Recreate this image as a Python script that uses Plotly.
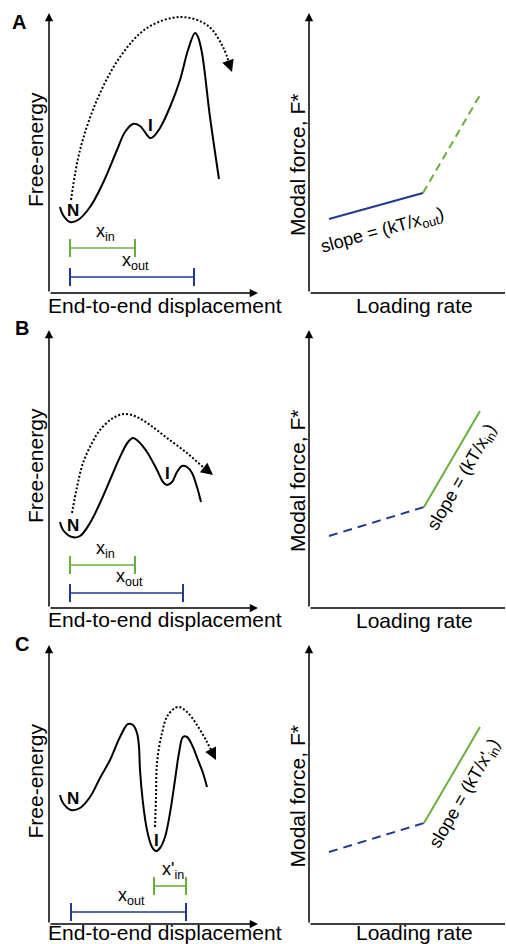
import math
import plotly.graph_objects as go

W, H = 506, 944
GREEN = "#6aaf3d"
NAVY = "#22388f"
FONT = "Arial, 'Liberation Sans', Helvetica, sans-serif"

# ---------------- data (schematic, arbitrary units) ----------------
# Panel A : energy landscape
A_energy_x = [11, 14, 21, 29, 41, 54, 68, 76, 84, 91, 98, 101, 104, 111, 121, 131, 139, 146, 149, 153, 161, 170]
A_energy_y = [86, 78, 71, 73, 86, 110, 143, 161, 169, 167, 158, 155, 156, 165, 186, 213, 243, 260, 256, 240, 176, 114]
A_path_x = [22, 31, 48, 71, 98, 131, 158, 174, 183]
A_path_y = [93, 143, 193, 236, 265, 276, 268, 246, 221]
A_N = [24, 83]
A_I = [101, 168]
A_xin = [21, 86]
A_xin_level = 45
A_xout = [21, 145]
A_xout_level = 16
A_rate = [20, 114, 171]
A_force = [74, 100, 198]

# Panel B
B_energy_x = [11, 14, 23, 31, 41, 51, 61, 71, 79, 84, 89, 98, 108, 114, 118, 123, 128, 133, 138, 143, 148, 152]
B_energy_y = [86, 78, 71, 72, 85, 105, 128, 151, 166, 170, 167, 156, 138, 126, 123, 126, 136, 142, 141, 135, 121, 106]
B_path_x = [23, 28, 34, 43, 51, 64, 76, 88, 101, 118, 138, 154, 164]
B_path_y = [95, 121, 145, 165, 178, 190, 194, 191, 183, 170, 155, 141, 133]
B_N = [24, 83]
B_I = [118, 135]
B_xin = [21, 86]
B_xin_level = 43
B_xout = [21, 134]
B_xout_level = 15
B_rate = [20, 115, 171]
B_force = [72, 101, 197]

# Panel C
C_energy_x = [11, 14, 22, 31, 41, 51, 61, 71, 79, 84, 88, 90, 91, 94, 98, 103, 107, 111, 116, 121, 126, 130, 134, 138, 143, 149, 154, 158]
C_energy_y = [129, 121, 114, 116, 127, 146, 164, 187, 200, 199, 191, 177, 154, 121, 94, 77, 73, 76, 87, 111, 144, 171, 187, 187, 179, 164, 151, 137]
C_path_x = [106, 107, 108, 113, 119, 129, 138, 148, 158, 167]
C_path_y = [97, 127, 161, 191, 209, 217, 212, 199, 182, 164]
C_N = [24, 126]
C_I = [107, 84]
C_xin = [105, 137]
C_xin_level = 38
C_xout = [22, 137]
C_xout_level = 12
C_rate = [20, 115, 171]
C_force = [72, 101, 197]

# ---------------- layout helpers ----------------
fig = go.Figure()
layout = dict(
    width=W, height=H, margin=dict(l=0, r=0, t=0, b=0),
    paper_bgcolor="white", plot_bgcolor="rgba(0,0,0,0)",
    showlegend=False, font=dict(family=FONT, color="black", size=12),
)
annotations = []

rows = {"A": (13, 293), "B": (330, 608), "C": (645, 924)}
LEFT_X = (49, 258)
RIGHT_X = (309, 505)


def arrow(**kw):
    d = dict(showarrow=True, arrowcolor="black", text="", font=dict(size=1))
    d.update(kw)
    annotations.append(d)


def add_axes(idx, xpx, ypx):
    s = "" if idx == 1 else str(idx)
    left, right = xpx
    top, bottom = ypx
    layout["xaxis" + s] = dict(domain=[left / W, right / W], range=[0, right - left],
                               visible=False, anchor="y" + s, fixedrange=True)
    layout["yaxis" + s] = dict(domain=[1 - bottom / H, 1 - top / H], range=[0, bottom - top],
                               visible=False, anchor="x" + s, fixedrange=True)
    xr, yr = "x" + s, "y" + s
    arrow(x=0, y=bottom - top, ax=0, ay=0, xref=xr, yref=yr, axref=xr, ayref=yr,
          arrowhead=2, arrowsize=1.1, arrowwidth=1.5)
    return xr, yr, right - left, bottom - top


def paper_text(text, px, py, size=21, angle=0, xanchor="center", bold=False):
    annotations.append(dict(x=px / W, y=1 - py / H, xref="paper", yref="paper",
                            text=f"<b>{text}</b>" if bold else text, showarrow=False,
                            textangle=angle, xanchor=xanchor, yanchor="middle",
                            font=dict(size=size, family=FONT, color="black")))


def energy_panel(idx, row, ex, ey, px_, py_, N, I, xin, xin_lvl, xin_lbl, xout, xout_lvl, label_y):
    top, bottom = rows[row]
    xr, yr, xmax, ymax = add_axes(idx, LEFT_X, (top, bottom))
    arrow(x=xmax, y=0, ax=0, ay=0, xref=xr, yref=yr, axref=xr, ayref=yr,
          arrowhead=2, arrowsize=1.1, arrowwidth=1.5)
    # energy curve
    fig.add_trace(go.Scatter(x=ex, y=ey, mode="lines", xaxis=xr, yaxis=yr,
                             line=dict(color="black", width=2, shape="spline", smoothing=1.0),
                             hoverinfo="skip"))
    # dotted pathway with arrowhead
    hx, hy = px_[-1], py_[-1]
    dx, dy = hx - px_[-2], hy - py_[-2]
    L = math.hypot(dx, dy)
    ux, uy = dx / L, dy / L
    lx = list(px_[:-1]) + [hx - ux * 6]
    ly = list(py_[:-1]) + [hy - uy * 6]
    fig.add_trace(go.Scatter(x=lx, y=ly, mode="lines", xaxis=xr, yaxis=yr,
                             line=dict(color="black", width=2, dash="2px,2px", shape="spline", smoothing=1.0),
                             hoverinfo="skip"))
    arrow(x=hx, y=hy, ax=-ux * 9, ay=uy * 9, xref=xr, yref=yr,
          arrowhead=2, arrowsize=1.2, arrowwidth=2)
    # N and I labels
    annotations.append(dict(x=N[0], y=N[1], xref=xr, yref=yr, text="<b>N</b>", showarrow=False,
                            font=dict(size=17, family=FONT, color="black")))
    annotations.append(dict(x=I[0], y=I[1], xref=xr, yref=yr, text="<b>I</b>", showarrow=False,
                            font=dict(size=17, family=FONT, color="black")))
    # distance bars
    for (xs, lvl, col, lbl) in [(xin, xin_lvl, GREEN, xin_lbl), (xout, xout_lvl, NAVY, "x<sub>out</sub>")]:
        fig.add_trace(go.Scatter(x=xs, y=[lvl, lvl], mode="lines+markers", xaxis=xr, yaxis=yr,
                                 line=dict(color=col, width=1.6),
                                 marker=dict(symbol="line-ns", size=13, line=dict(color=col, width=2)),
                                 hoverinfo="skip"))
        annotations.append(dict(x=(xs[0] + xs[1]) / 2 + 3, y=lvl + 2, xref=xr, yref=yr, text=lbl,
                                showarrow=False, yanchor="bottom",
                                font=dict(size=18, family=FONT, color="black")))
    paper_text("Free-energy", 35, (top + bottom) / 2 - 3, angle=-90)
    paper_text("End-to-end displacement", 46, label_y, xanchor="left")


def force_panel(idx, row, rate, force, first_dashed, slope_lbl, lbl_pos, lbl_angle, label_y):
    top, bottom = rows[row]
    xr, yr, xmax, ymax = add_axes(idx, RIGHT_X, (top, bottom))
    arrow(x=xmax, y=0, ax=0, ay=0, xref=xr, yref=yr, axref=xr, ayref=yr,
          arrowhead=0, arrowwidth=1.5)
    fig.add_trace(go.Scatter(x=rate[:2], y=force[:2], mode="lines", xaxis=xr, yaxis=yr,
                             line=dict(color=NAVY, width=2, dash="9px,6px" if first_dashed else "solid"),
                             hoverinfo="skip"))
    fig.add_trace(go.Scatter(x=rate[1:], y=force[1:], mode="lines", xaxis=xr, yaxis=yr,
                             line=dict(color=GREEN, width=2, dash="solid" if first_dashed else "8px,5px"),
                             hoverinfo="skip"))
    annotations.append(dict(x=lbl_pos[0], y=lbl_pos[1], xref=xr, yref=yr, text=slope_lbl,
                            showarrow=False, textangle=lbl_angle,
                            font=dict(size=18, family=FONT, color="black")))
    paper_text("Modal force, F*", 297, (top + bottom) / 2 + 12, angle=-90)
    paper_text("Loading rate", 414, label_y)


energy_panel(1, "A", A_energy_x, A_energy_y, A_path_x, A_path_y, A_N, A_I,
             A_xin, A_xin_level, "x<sub>in</sub>", A_xout, A_xout_level, 305)
force_panel(2, "A", A_rate, A_force, False, "slope = (kT/x<sub>out</sub>)", (73, 62), -15.5, 305)

energy_panel(3, "B", B_energy_x, B_energy_y, B_path_x, B_path_y, B_N, B_I,
             B_xin, B_xin_level, "x<sub>in</sub>", B_xout, B_xout_level, 619)
force_panel(4, "B", B_rate, B_force, True, "slope = (kT/x<sub>in</sub>)", (153, 130), -60, 620)

energy_panel(5, "C", C_energy_x, C_energy_y, C_path_x, C_path_y, C_N, C_I,
             C_xin, C_xin_level, "x'<sub>in</sub>", C_xout, C_xout_level, 932)
force_panel(6, "C", C_rate, C_force, True, "slope = (kT/x'<sub>in</sub>)", (156, 130), -60, 932)

# panel letters
paper_text("A", 19, 22, size=20, bold=True)
paper_text("B", 22, 328, size=20, bold=True)
paper_text("C", 22, 644, size=20, bold=True)

layout["annotations"] = annotations
fig.update_layout(**layout)
fig.write_html("out.html")
